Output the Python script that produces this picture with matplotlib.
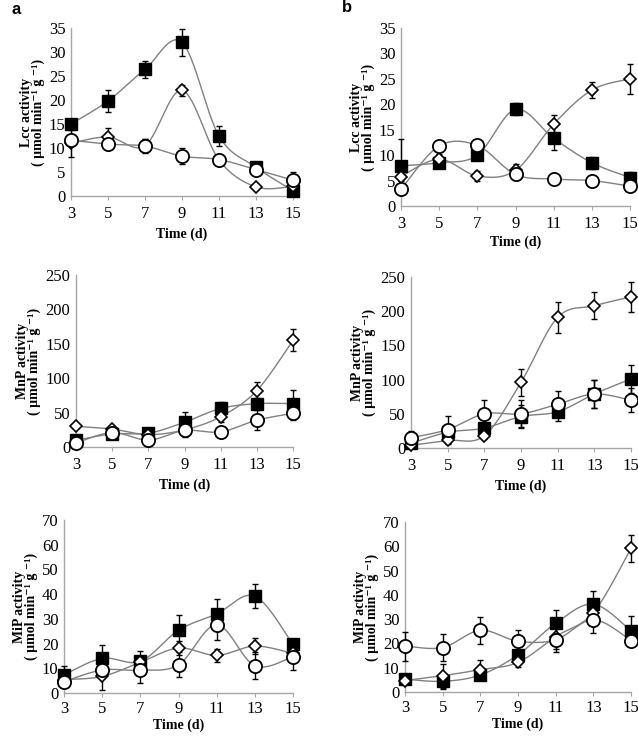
import numpy as np
import matplotlib
matplotlib.use('Agg')
import matplotlib.pyplot as plt

plt.rcParams['font.family'] = ['Liberation Serif', 'DejaVu Serif']

#=== Data ===============================================================================
days = [3, 5, 7, 9, 11, 13, 15]

# Lcc activity
lcc_a_sq = [15.0, 19.8, 26.4, 32.0, 12.5, 6.0, 1.1]
lcc_a_sq_err = [0.8, 2.3, 1.8, 2.8, 2.0, 0.8, 0.5]
lcc_a_di = [11.0, 12.3, 10.5, 22.0, 7.5, 1.9, 2.0]
lcc_a_di_err = [2.8, 1.9, 1.3, 1.2, 1.0, 0.5, 0.5]
lcc_a_ci = [11.6, 10.8, 10.4, 8.3, 7.6, 5.5, 3.3]
lcc_a_ci_err = [1.0, 1.2, 1.5, 1.6, 1.2, 1.0, 1.7]

lcc_b_sq = [7.9, 8.5, 10.0, 19.0, 13.3, 8.5, 5.6]
lcc_b_sq_err = [5.2, 1.0, 1.0, 1.2, 2.2, 1.2, 1.0]
lcc_b_di = [5.8, 9.2, 5.9, 7.0, 16.1, 22.8, 25.0]
lcc_b_di_err = [0.8, 1.0, 1.0, 1.2, 1.7, 1.6, 2.9]
lcc_b_ci = [3.3, 11.8, 11.9, 6.2, 5.3, 5.0, 3.9]
lcc_b_ci_err = [0.5, 0.8, 0.8, 1.0, 0.8, 0.8, 0.6]

# MnP activity
mnp_a_sq = [9.7, 19, 20, 36, 56, 63, 63]
mnp_a_sq_err = [3, 8, 4, 15, 10, 8, 20]
mnp_a_di = [30, 26, 18, 25, 44, 82, 155]
mnp_a_di_err = [3, 5, 3, 8, 8, 13, 16]
mnp_a_ci = [6, 21, 10, 24, 22, 39, 49]
mnp_a_ci_err = [3, 8, 3, 10, 4, 15, 10]

mnp_b_sq = [7, 23, 29, 46, 53, 79, 101]
mnp_b_sq_err = [5, 10, 6, 17, 14, 21, 20]
mnp_b_di = [4, 11, 18, 96, 191, 208, 221]
mnp_b_di_err = [3, 5, 5, 20, 23, 20, 22]
mnp_b_ci = [15, 27, 50, 50, 64, 79, 70]
mnp_b_ci_err = [10, 20, 20, 20, 19, 20, 17]

# MiP activity
mip_a_sq = [7.4, 14.0, 12.8, 25.4, 32.0, 39.2, 19.7]
mip_a_sq_err = [3.5, 5.5, 4, 6, 6, 5, 1]
mip_a_di = [5.4, 6.7, 12.4, 18.2, 15.2, 19.0, 16.0]
mip_a_di_err = [1, 5.5, 2, 3, 2.5, 3.3, 1.5]
mip_a_ci = [4.6, 9.3, 9.2, 11.4, 27.6, 11.0, 14.7]
mip_a_ci_err = [1, 2, 5, 5, 6, 5.5, 5.5]

mip_b_sq = [5.3, 4.4, 7.0, 15.3, 28.3, 36.2, 25.2]
mip_b_sq_err = [2, 3, 1.5, 2, 5.5, 5.5, 6]
mip_b_di = [4.7, 6.7, 9.2, 12.2, 22.8, 32.7, 59.1]
mip_b_di_err = [1.5, 5, 4, 2, 5, 3, 5.5]
mip_b_ci = [18.9, 18.3, 25.4, 20.9, 21.5, 29.8, 21.2]
mip_b_ci_err = [6, 5.5, 5.5, 4.8, 5, 5.5, 1]

x_ticks = [3, 5, 7, 9, 11, 13, 15]

#=== Helpers ============================================================================

def smooth(x, y, n=30):
    # excel-like smoothed line: bezier segments with catmull-rom control points
    x = np.asarray(x, float)
    y = np.asarray(y, float)
    P = np.column_stack([x, y])
    P = np.vstack([P[0], P, P[-1]])
    out = []
    t = np.linspace(0, 1, n)[:, None]
    for i in range(1, len(P) - 2):
        p0, p1, p2, p3 = P[i - 1], P[i], P[i + 1], P[i + 2]
        c1 = p1 + (p2 - p0) / 6
        c2 = p2 - (p3 - p1) / 6
        seg = ((1 - t) ** 3) * p1 + 3 * ((1 - t) ** 2) * t * c1 + 3 * (1 - t) * t ** 2 * c2 + t ** 3 * p2
        out.append(seg)
    out = np.vstack(out)
    return out[:, 0], out[:, 1]


def draw_series(ax, y, err, kind):
    xs, ys = smooth(days, y)
    ax.plot(xs, ys, color='#808080', lw=1.0, zorder=2, clip_on=False)
    ax.errorbar(days, y, yerr=err, fmt='none', ecolor='black', elinewidth=1.0,
                capsize=2.5, capthick=1.0, zorder=3, clip_on=False)
    if kind == 'sq':
        ax.plot(days, y, ls='none', marker='s', ms=8.5, mfc='black', mec='black', zorder=4, clip_on=False)
    elif kind == 'di':
        ax.plot(days, y, ls='none', marker='D', ms=6.5, mfc='white', mec='black', mew=1.2, zorder=5, clip_on=False)
    else:
        ax.plot(days, y, ls='none', marker='o', ms=9.5, mfc='white', mec='black', mew=1.3, zorder=6, clip_on=False)


def setup(ax, ymax, ystep, ylabel, xpad, lpad):
    ax.set_xlim(3, 15)
    ax.set_ylim(0, ymax)
    ax.set_xticks(x_ticks)
    ax.set_yticks(np.arange(0, ymax + 0.1, ystep))
    for s in ['top', 'right']:
        ax.spines[s].set_visible(False)
    for s in ['left', 'bottom']:
        ax.spines[s].set_color('#a6a6a6')
        ax.spines[s].set_linewidth(1.0)
    ax.tick_params(axis='x', direction='out', length=3, color='#a6a6a6', labelsize=12, pad=xpad)
    ax.tick_params(axis='y', length=0, labelsize=12, pad=4)
    ax.set_xlabel('Time (d)', fontweight='bold', fontsize=10, labelpad=lpad)
    ax.set_ylabel(ylabel + '\n' + '( µmol min\u207b\u00b9 g \u207b\u00b9)',
                  fontweight='bold', fontsize=10, linespacing=0.85, labelpad=3)


def axes_px(fig, x0, x1, y0, y1):
    W, H = 638.0, 736.0
    return fig.add_axes([x0 / W, 1 - y1 / H, (x1 - x0) / W, (y1 - y0) / H])

#=== Plot ===============================================================================

fig = plt.figure(figsize=(6.38, 7.36), dpi=100)

panels = [
    ((71, 293, 28, 196), 35, 5, 'Lcc activity', 4, 4,
     [(lcc_a_sq, lcc_a_sq_err), (lcc_a_di, lcc_a_di_err), (lcc_a_ci, lcc_a_ci_err)]),
    ((401, 630, 28, 206), 35, 5, 'Lcc activity', 4, 3,
     [(lcc_b_sq, lcc_b_sq_err), (lcc_b_di, lcc_b_di_err), (lcc_b_ci, lcc_b_ci_err)]),
    ((76, 293, 275, 447), 250, 50, 'MnP activity', 4, 4,
     [(mnp_a_sq, mnp_a_sq_err), (mnp_a_di, mnp_a_di_err), (mnp_a_ci, mnp_a_ci_err)]),
    ((411, 631, 277, 448), 250, 50, 'MnP activity', 4, 4,
     [(mnp_b_sq, mnp_b_sq_err), (mnp_b_di, mnp_b_di_err), (mnp_b_ci, mnp_b_ci_err)]),
    ((64, 293, 520, 693), 70, 10, 'MiP activity', 3, 1,
     [(mip_a_sq, mip_a_sq_err), (mip_a_di, mip_a_di_err), (mip_a_ci, mip_a_ci_err)]),
    ((405, 631, 522, 692), 70, 10, 'MiP activity', 3, 1,
     [(mip_b_sq, mip_b_sq_err), (mip_b_di, mip_b_di_err), (mip_b_ci, mip_b_ci_err)]),
]

for box, ymax, ystep, ylabel, xpad, lpad, series in panels:
    ax = axes_px(fig, *box)
    setup(ax, ymax, ystep, ylabel, xpad, lpad)
    for (y, err), kind in zip(series, ['sq', 'di', 'ci']):
        draw_series(ax, y, err, kind)

fig.text(12 / 638, 1 - 10 / 736, 'a', fontsize=12, fontweight='bold',
         family='Liberation Sans', ha='left', va='center')
fig.text(342 / 638, 1 - 8 / 736, 'b', fontsize=12, fontweight='bold',
         family='Liberation Sans', ha='left', va='center')

fig.savefig('out.png', dpi=100)
